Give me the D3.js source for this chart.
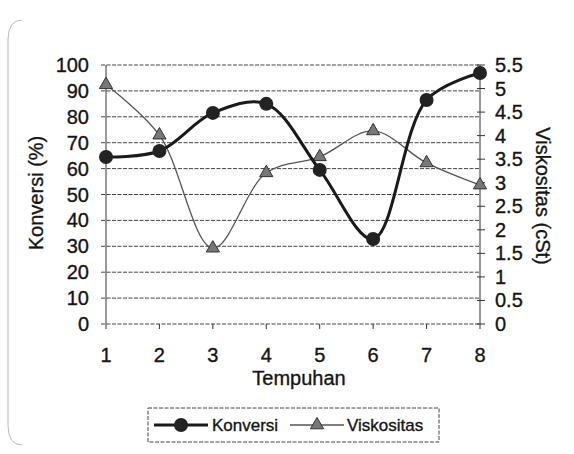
<!DOCTYPE html>
<html>
<head>
<meta charset="utf-8">
<script src="https://cdn.jsdelivr.net/npm/d3@7"></script>
<style>
  body { margin: 0; background: #fff; }
  svg text { font-family: "Liberation Sans", Arial, sans-serif; fill: #151515; stroke: #151515; stroke-width: 0.35px; }
</style>
</head>
<body>
<div id="chart"></div>
<script>
const tempuhan = [1, 2, 3, 4, 5, 6, 7, 8];
const konversi = [64.5, 66.8, 81.5, 85, 59.5, 32.8, 86.5, 96.9];
const viskositas = [5.08, 4.01, 1.61, 3.21, 3.55, 4.10, 3.42, 2.95];
const leftTicks = [0, 10, 20, 30, 40, 50, 60, 70, 80, 90, 100];
const rightTicks = [0, 0.5, 1, 1.5, 2, 2.5, 3, 3.5, 4, 4.5, 5, 5.5];

const W = 574, H = 454;
const plot = { left: 106, right: 480, top: 65, bottom: 324 };

const svg = d3.select("#chart").append("svg")
  .attr("width", W)
  .attr("height", H);

// faint frame of the scanned chart area
svg.append("path")
  .attr("d", "M 22 20 Q 8 20 8 40 L 8 425 Q 8 445 22 445")
  .attr("fill", "none")
  .attr("stroke", "#bbb")
  .attr("stroke-width", 1);

const x = d3.scaleLinear().domain([1, 8]).range([plot.left, plot.right]);
const yL = d3.scaleLinear().domain([0, 100]).range([plot.bottom, plot.top]);
const yR = d3.scaleLinear().domain([0, 5.5]).range([plot.bottom, plot.top]);

// gridlines
svg.append("g")
  .selectAll("line")
  .data(leftTicks)
  .join("line")
    .attr("x1", plot.left - 5)
    .attr("x2", plot.right)
    .attr("y1", d => yL(d))
    .attr("y2", d => yL(d))
    .attr("stroke", "#444")
    .attr("stroke-width", 1)
    .attr("stroke-dasharray", "4,1.5");

// axes lines
svg.append("line")
  .attr("x1", plot.left).attr("x2", plot.left)
  .attr("y1", plot.top).attr("y2", plot.bottom)
  .attr("stroke", "#333").attr("stroke-width", 1);
svg.append("line")
  .attr("x1", plot.right).attr("x2", plot.right)
  .attr("y1", plot.top).attr("y2", plot.bottom)
  .attr("stroke", "#333").attr("stroke-width", 1);

// x ticks
svg.append("g")
  .selectAll("line")
  .data(tempuhan)
  .join("line")
    .attr("x1", d => x(d)).attr("x2", d => x(d))
    .attr("y1", plot.bottom).attr("y2", plot.bottom + 5)
    .attr("stroke", "#333");

// right ticks
svg.append("g")
  .selectAll("line")
  .data(rightTicks)
  .join("line")
    .attr("x1", plot.right - 3).attr("x2", plot.right + 5)
    .attr("y1", d => yR(d)).attr("y2", d => yR(d))
    .attr("stroke", "#333");

// left tick labels
svg.append("g")
  .selectAll("text")
  .data(leftTicks)
  .join("text")
    .attr("x", 89)
    .attr("y", d => yL(d) + 7)
    .attr("text-anchor", "end")
    .style("font-size", "20px")
    .text(d => d);

// right tick labels
svg.append("g")
  .selectAll("text")
  .data(rightTicks)
  .join("text")
    .attr("x", 495)
    .attr("y", d => yR(d) + 7)
    .attr("text-anchor", "start")
    .style("font-size", "20px")
    .text(d => d);

// x tick labels
svg.append("g")
  .selectAll("text")
  .data(tempuhan)
  .join("text")
    .attr("x", d => x(d))
    .attr("y", 362)
    .attr("text-anchor", "middle")
    .style("font-size", "20px")
    .text(d => d);

svg.append("text")
  .attr("x", 299).attr("y", 385)
  .attr("text-anchor", "middle")
  .style("font-size", "20px")
  .text("Tempuhan");

svg.append("text")
  .attr("transform", "translate(43,193) rotate(-90)")
  .attr("text-anchor", "middle")
  .style("font-size", "20px")
  .text("Konversi (%)");

svg.append("text")
  .attr("transform", "translate(536,196) rotate(90)")
  .attr("text-anchor", "middle")
  .style("font-size", "20px")
  .text("Viskositas (cSt)");

const curve = d3.curveCatmullRom.alpha(0.5);

// Viskositas series
const viskLine = d3.line()
  .x((d, i) => x(tempuhan[i]))
  .y(d => yR(d))
  .curve(curve);

svg.append("path")
  .datum(viskositas)
  .attr("d", viskLine)
  .attr("fill", "none")
  .attr("stroke", "#555")
  .attr("stroke-width", 1.3);

const tri = d3.symbol().type(d3.symbolTriangle).size(75);
svg.append("g")
  .selectAll("path")
  .data(viskositas)
  .join("path")
    .attr("transform", (d, i) => `translate(${x(tempuhan[i])},${yR(d)})`)
    .attr("d", tri)
    .attr("fill", "#777")
    .attr("stroke", "#333")
    .attr("stroke-width", 1);

// Konversi series
const konvLine = d3.line()
  .x((d, i) => x(tempuhan[i]))
  .y(d => yL(d))
  .curve(curve);

svg.append("path")
  .datum(konversi)
  .attr("d", konvLine)
  .attr("fill", "none")
  .attr("stroke", "#1a1a1a")
  .attr("stroke-width", 3);

svg.append("g")
  .selectAll("circle")
  .data(konversi)
  .join("circle")
    .attr("cx", (d, i) => x(tempuhan[i]))
    .attr("cy", d => yL(d))
    .attr("r", 7)
    .attr("fill", "#222");

// legend
const legend = svg.append("g");
legend.append("rect")
  .attr("x", 148).attr("y", 408)
  .attr("width", 291).attr("height", 34)
  .attr("fill", "#fff")
  .attr("stroke", "#444")
  .attr("stroke-dasharray", "4,1.5");

legend.append("line")
  .attr("x1", 154).attr("x2", 208)
  .attr("y1", 425).attr("y2", 425)
  .attr("stroke", "#1a1a1a").attr("stroke-width", 3);
legend.append("circle")
  .attr("cx", 181).attr("cy", 425).attr("r", 7)
  .attr("fill", "#222");
legend.append("text")
  .attr("x", 212).attr("y", 431)
  .style("font-size", "17px")
  .text("Konversi");

legend.append("line")
  .attr("x1", 290).attr("x2", 344)
  .attr("y1", 425).attr("y2", 425)
  .attr("stroke", "#555").attr("stroke-width", 1.3);
legend.append("path")
  .attr("transform", "translate(317,425)")
  .attr("d", tri)
  .attr("fill", "#777")
  .attr("stroke", "#333");
legend.append("text")
  .attr("x", 347).attr("y", 431)
  .style("font-size", "17px")
  .text("Viskositas");
</script>
</body>
</html>
